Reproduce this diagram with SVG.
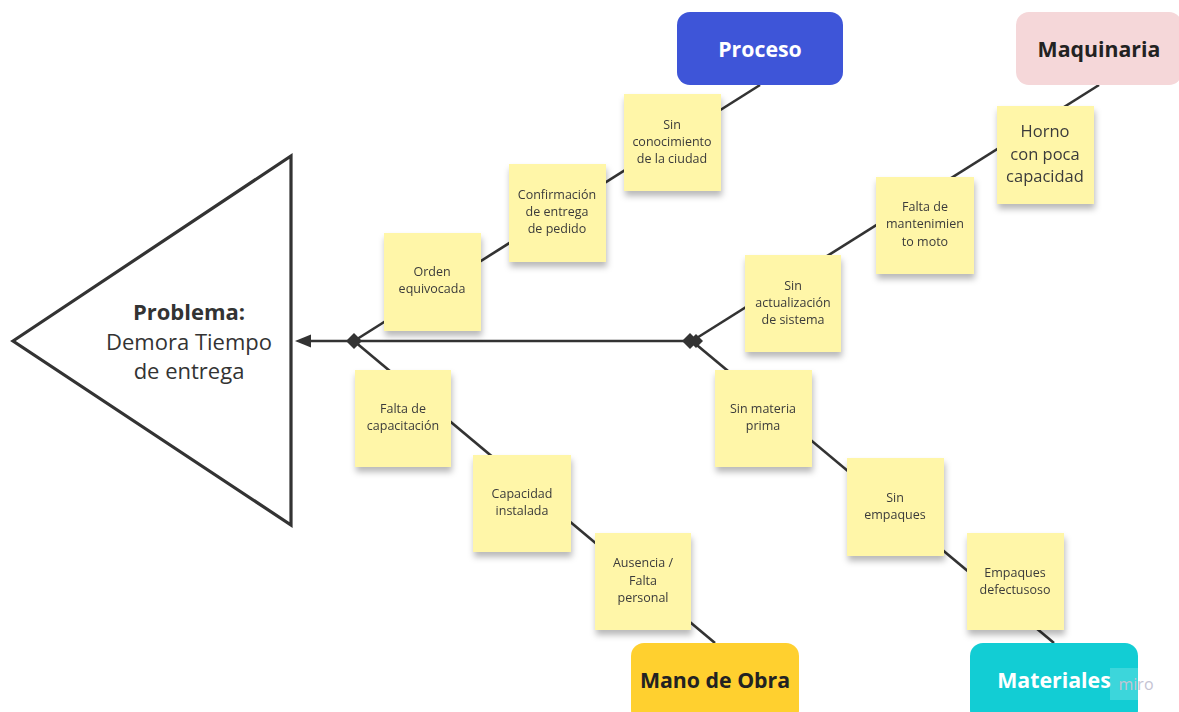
<svg xmlns="http://www.w3.org/2000/svg" width="1179" height="712" viewBox="0 0 1179 712">
<style>
.ln{stroke:#333;stroke-width:2.6;fill:none}
.st{fill:#fff6a8}
.stt{font-family:"Open Sans","Liberation Sans",sans-serif;font-size:12.5px;fill:#3b3b3b;text-anchor:middle}
.big{font-size:16.5px}
.cat{font-family:"Open Sans","Liberation Sans",sans-serif;font-size:21.3px;font-weight:bold;text-anchor:middle}
.pt{font-family:"Open Sans","Liberation Sans",sans-serif;font-size:22px;fill:#333;text-anchor:middle}
</style>
<defs>
<filter id="sh" x="-20%" y="-20%" width="140%" height="150%">
<feDropShadow dx="1" dy="5" stdDeviation="3" flood-color="#000" flood-opacity="0.28"/>
</filter>
</defs>
<rect width="1179" height="712" fill="#fff"/>

<g id="problema">
<polygon points="13,341 291,156 291,525" fill="#fff" stroke="#333" stroke-width="3.2" stroke-linejoin="miter"/>
<text class="pt" x="189" y="320" font-weight="bold" fill="#222">Problema:</text>
<text class="pt" x="189" y="350">Demora Tiempo</text>
<text class="pt" x="189" y="379">de entrega</text>
</g>

<g id="connectors">
<line class="ln" x1="697" y1="341" x2="306" y2="341"/>
<path d="M295,341 L311,334.5 L311,347.5 Z" fill="#333"/>
<line class="ln" x1="354" y1="341" x2="760" y2="85"/>
<line class="ln" x1="354" y1="341" x2="715" y2="643"/>
<line class="ln" x1="692" y1="341" x2="1099" y2="85"/>
<line class="ln" x1="692" y1="341" x2="1054" y2="643"/>
<path d="M354,333 L362,341 L354,349 L346,341 Z" fill="#333"/>
<path d="M690,333 L698,341 L690,349 L682,341 Z" fill="#333"/>
<path d="M696,334 L703,341 L696,348 L689,341 Z" fill="#333"/>
</g>

<g id="proceso">
<rect x="677" y="12" width="166" height="73" rx="13" fill="#3e55d8"/>
<text class="cat" x="760" y="57" fill="#fff">Proceso</text>
</g>
<g id="maquinaria">
<rect x="1016" y="12" width="166" height="73" rx="13" fill="#f5d7d9"/>
<text class="cat" x="1099" y="57" fill="#222">Maquinaria</text>
</g>
<g id="mano-de-obra">
<rect x="631" y="643" width="168" height="80" rx="13" fill="#ffd02f"/>
<text class="cat" x="715" y="688" fill="#222">Mano de Obra</text>
</g>
<g id="materiales">
<rect x="970" y="643" width="168" height="80" rx="13" fill="#12cdd4"/>
<text class="cat" x="1054" y="688" fill="#fff">Materiales</text>
</g>

<g id="s-sin-conocimiento" filter="url(#sh)">
<rect class="st" x="624" y="94" width="97" height="97"/>
<text class="stt"><tspan x="672" y="129">Sin</tspan><tspan x="672" y="146">conocimiento</tspan><tspan x="672" y="163">de la ciudad</tspan></text>
</g>
<g id="s-confirmacion" filter="url(#sh)">
<rect class="st" x="509" y="164" width="97" height="98"/>
<text class="stt"><tspan x="557" y="199">Confirmación</tspan><tspan x="557" y="216">de entrega</tspan><tspan x="557" y="233">de pedido</tspan></text>
</g>
<g id="s-orden" filter="url(#sh)">
<rect class="st" x="384" y="233" width="97" height="98"/>
<text class="stt"><tspan x="432" y="276">Orden</tspan><tspan x="432" y="293">equivocada</tspan></text>
</g>
<g id="s-horno" filter="url(#sh)">
<rect class="st" x="997" y="106" width="97" height="98"/>
<text class="stt big"><tspan x="1045" y="137">Horno</tspan><tspan x="1045" y="160">con poca</tspan><tspan x="1045" y="182">capacidad</tspan></text>
</g>
<g id="s-mantenimiento" filter="url(#sh)">
<rect class="st" x="876" y="177" width="98" height="97"/>
<text class="stt"><tspan x="925" y="211">Falta de</tspan><tspan x="925" y="228">mantenimien</tspan><tspan x="925" y="246">to moto</tspan></text>
</g>
<g id="s-actualizacion" filter="url(#sh)">
<rect class="st" x="745" y="255" width="96" height="97"/>
<text class="stt"><tspan x="793" y="290">Sin</tspan><tspan x="793" y="307">actualización</tspan><tspan x="793" y="324">de sistema</tspan></text>
</g>
<g id="s-capacitacion" filter="url(#sh)">
<rect class="st" x="355" y="370" width="96" height="97"/>
<text class="stt"><tspan x="403" y="413">Falta de</tspan><tspan x="403" y="430">capacitación</tspan></text>
</g>
<g id="s-capacidad" filter="url(#sh)">
<rect class="st" x="473" y="455" width="98" height="97"/>
<text class="stt"><tspan x="522" y="498">Capacidad</tspan><tspan x="522" y="515">instalada</tspan></text>
</g>
<g id="s-ausencia" filter="url(#sh)">
<rect class="st" x="595" y="533" width="96" height="97"/>
<text class="stt"><tspan x="643" y="567">Ausencia /</tspan><tspan x="643" y="585">Falta</tspan><tspan x="643" y="602">personal</tspan></text>
</g>
<g id="s-materia" filter="url(#sh)">
<rect class="st" x="715" y="370" width="97" height="97"/>
<text class="stt"><tspan x="763" y="413">Sin materia</tspan><tspan x="763" y="430">prima</tspan></text>
</g>
<g id="s-empaques" filter="url(#sh)">
<rect class="st" x="847" y="458" width="97" height="98"/>
<text class="stt"><tspan x="895" y="502">Sin</tspan><tspan x="895" y="519">empaques</tspan></text>
</g>
<g id="s-defectuoso" filter="url(#sh)">
<rect class="st" x="967" y="533" width="97" height="97"/>
<text class="stt"><tspan x="1015" y="577">Empaques</tspan><tspan x="1015" y="594">defectusoso</tspan></text>
</g>

<g id="watermark">
<rect x="1110" y="668" width="30" height="32" fill="#fff" fill-opacity="0.18"/>
<text x="1136" y="690" style="font-family:'Open Sans','Liberation Sans',sans-serif;font-size:16px;fill:#c5c3d3;text-anchor:middle">miro</text>
</g>
</svg>
